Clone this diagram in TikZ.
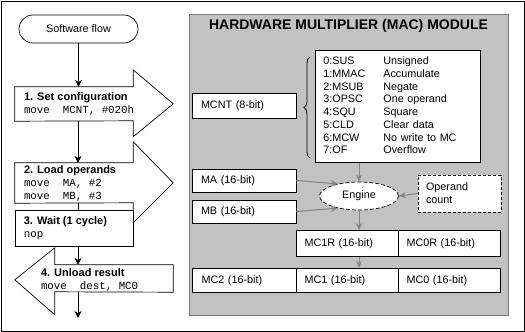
\documentclass[tikz,border=0pt]{standalone}
\usepackage{fontspec}
\setmainfont{Liberation Sans}
\setsansfont{Liberation Sans}
\setmonofont{Liberation Mono}
\usetikzlibrary{arrows.meta, positioning, shapes.geometric, matrix, decorations.pathreplacing}

\definecolor{panelgray}{HTML}{C2C2C2}
\definecolor{panelline}{HTML}{7C7C7C}
\definecolor{hwgray}{HTML}{858585}

\tikzset{
  every node/.style={font=\fontsize{10.8}{13}\selectfont},
  flow/.style={draw=black, line width=0.9pt, -{Stealth[length=7pt,width=7pt]}},
  hwlink/.style={draw=hwgray, line width=1pt, -{Stealth[length=7pt,width=6pt]}},
  outline/.style={draw=black, line width=0.7pt, fill=white},
  stepbody/.style={minimum width=118pt, inner sep=0pt},
  steptext/.style={anchor=west, align=left, inner sep=0pt},
  reg/.style={draw=black, line width=0.7pt, fill=white, minimum height=24pt,
              text width=86pt, inner xsep=8pt, align=left},
  brace/.style={decorate, decoration={brace, amplitude=6pt}, line width=0.8pt},
}
\newcommand{\stephead}[1]{{\bfseries\fontsize{11}{13}\selectfont #1}}

\begin{document}
\begin{tikzpicture}[x=1pt, y=-1pt]
\useasboundingbox (0,0) rectangle (525,332);
\draw[line width=1pt] (1,1) rectangle (524,331);

% module panel
\draw[draw=panelline, fill=panelgray, line width=1pt] (189,14) rectangle (508,315);
\node[font=\bfseries\fontsize{14}{16}\selectfont] (title) at (348.5,26) {HARDWARE MULTIPLIER (MAC) MODULE};

% software flow
\node[draw, line width=0.7pt, rounded corners=14pt, minimum width=119pt, minimum height=28pt] (start) at (78.5,29) {Software flow};

\node[stepbody, minimum height=34pt] (s1) at (74,104) {};
\draw[outline] (s1.north west) -- (s1.north east) -- ++(0,-17) -- ++(40,34) -- ++(-40,33) -- ++(0,-16) -- (s1.south west) -- cycle;
\node[steptext] (s1text) at ([xshift=9pt]s1.west) {\stephead{1. Set configuration}\\\texttt{move\ \ MCNT, \#020h}};

\node[stepbody, minimum height=40pt] (s2) at (74,183) {};
\draw[outline] (s2.north west) -- (s2.north east) -- ++(0,-21) -- ++(40,41) -- ++(-40,40) -- ++(0,-20) -- (s2.south west) -- cycle;
\node[steptext] (s2text) at ([xshift=9pt]s2.west) {\stephead{2. Load operands}\\\texttt{move\ \ MA, \#2}\\\texttt{move\ \ MB, \#3}};

\node[stepbody, outline, minimum height=36pt] (s3) at (74,228) {};
\node[steptext] (s3text) at ([xshift=9pt]s3.west) {\stephead{3. Wait (1 cycle)}\\\texttt{nop}};

\node[stepbody, minimum height=27pt] (s4) at (114,278.5) {};
\draw[outline] (s4.north east) -- (s4.north west) -- ++(0,-17) -- ++(-40,32) -- ++(40,35) -- ++(0,-23) -- (s4.south east) -- cycle;
\node[steptext] (s4text) at ([xshift=-14pt,yshift=-1.5pt]s4.west) {\stephead{4. Unload result}\\\texttt{move\ \ dest, MC0}};

\coordinate (flowend) at (78,318);
\draw[flow] (start.south) -- (start.south |- s1.north);
\draw[flow] ([xshift=4pt]s1.south) -- ([xshift=4pt]s2.north);
\draw[line width=0.9pt] ([xshift=4pt]s2.south) -- ([xshift=4pt]s3.north);
\draw[flow] ([xshift=4pt]s3.south) -- ([xshift=4pt]s3.south |- s4.north);
\draw[flow] (flowend |- s4.south) -- (flowend);

% hardware registers
\node[reg, minimum width=104pt, minimum height=25pt] (mcnt) at (244,105.5) {MCNT (8-bit)};
\node[reg, minimum width=104pt, minimum height=23pt] (ma) at (244,180.5) {MA (16-bit)};
\node[reg, minimum width=104pt, minimum height=23pt] (mb) at (244,211.5) {MB (16-bit)};

\matrix (bits) [matrix of nodes, draw=black, line width=0.7pt, fill=white, anchor=north west,
                inner xsep=8pt, inner ysep=6.5pt, row sep=2.2pt,
                nodes={inner sep=0pt, text height=8pt, text depth=2.5pt, anchor=base west},
                column 1/.style={nodes={text width=60pt}},
                column 2/.style={nodes={text width=89pt}}] at (315,50) {
    0:SUS  & Unsigned \\
    1:MMAC & Accumulate \\
    2:MSUB & Negate \\
    3:OPSC & One operand \\
    4:SQU  & Square \\
    5:CLD  & Clear data \\
    6:MCW  & No write to MC \\
    7:OF   & Overflow \\
};
\draw[brace] ([xshift=-5pt,yshift=5pt]bits.south west) -- ([xshift=-5pt,yshift=-7pt]bits.north west);

\node[draw=black, dash pattern=on 4pt off 2pt, line width=0.7pt, ellipse, fill=white,
      minimum width=79pt, minimum height=28pt, inner sep=0pt] (engine) at (359,196) {Engine};
\node[draw=black, dash pattern=on 3pt off 2pt, line width=0.7pt, fill=white, minimum width=83pt,
      minimum height=37pt, text width=67pt, inner xsep=8pt, align=left] (opcount) at (459.5,193.5) {Operand\\count};

\matrix (mc) [matrix of nodes, anchor=north west, inner sep=0pt, column sep=-0.7pt, row sep=11pt,
              nodes={reg}, row 1/.style={nodes={minimum height=26pt}}] at (192,230) {
    & MC1R (16-bit) & MC0R (16-bit) \\
    |[minimum width=104pt]| MC2 (16-bit) & MC1 (16-bit) & MC0 (16-bit) \\
};

\draw[hwlink] (engine.north |- bits.south) -- (engine.north);
\draw[hwlink] (ma.east) -- (engine.150);
\draw[hwlink] (mb.east) -- (engine.210);
\draw[hwlink] (opcount.west) -- (engine.east);
\draw[hwlink] (engine.south) -- (engine.south |- mc-1-2.north);
\draw[hwlink] (engine.south |- mc-1-2.south) -- (engine.south |- mc-2-2.north);
\end{tikzpicture}
\end{document}
